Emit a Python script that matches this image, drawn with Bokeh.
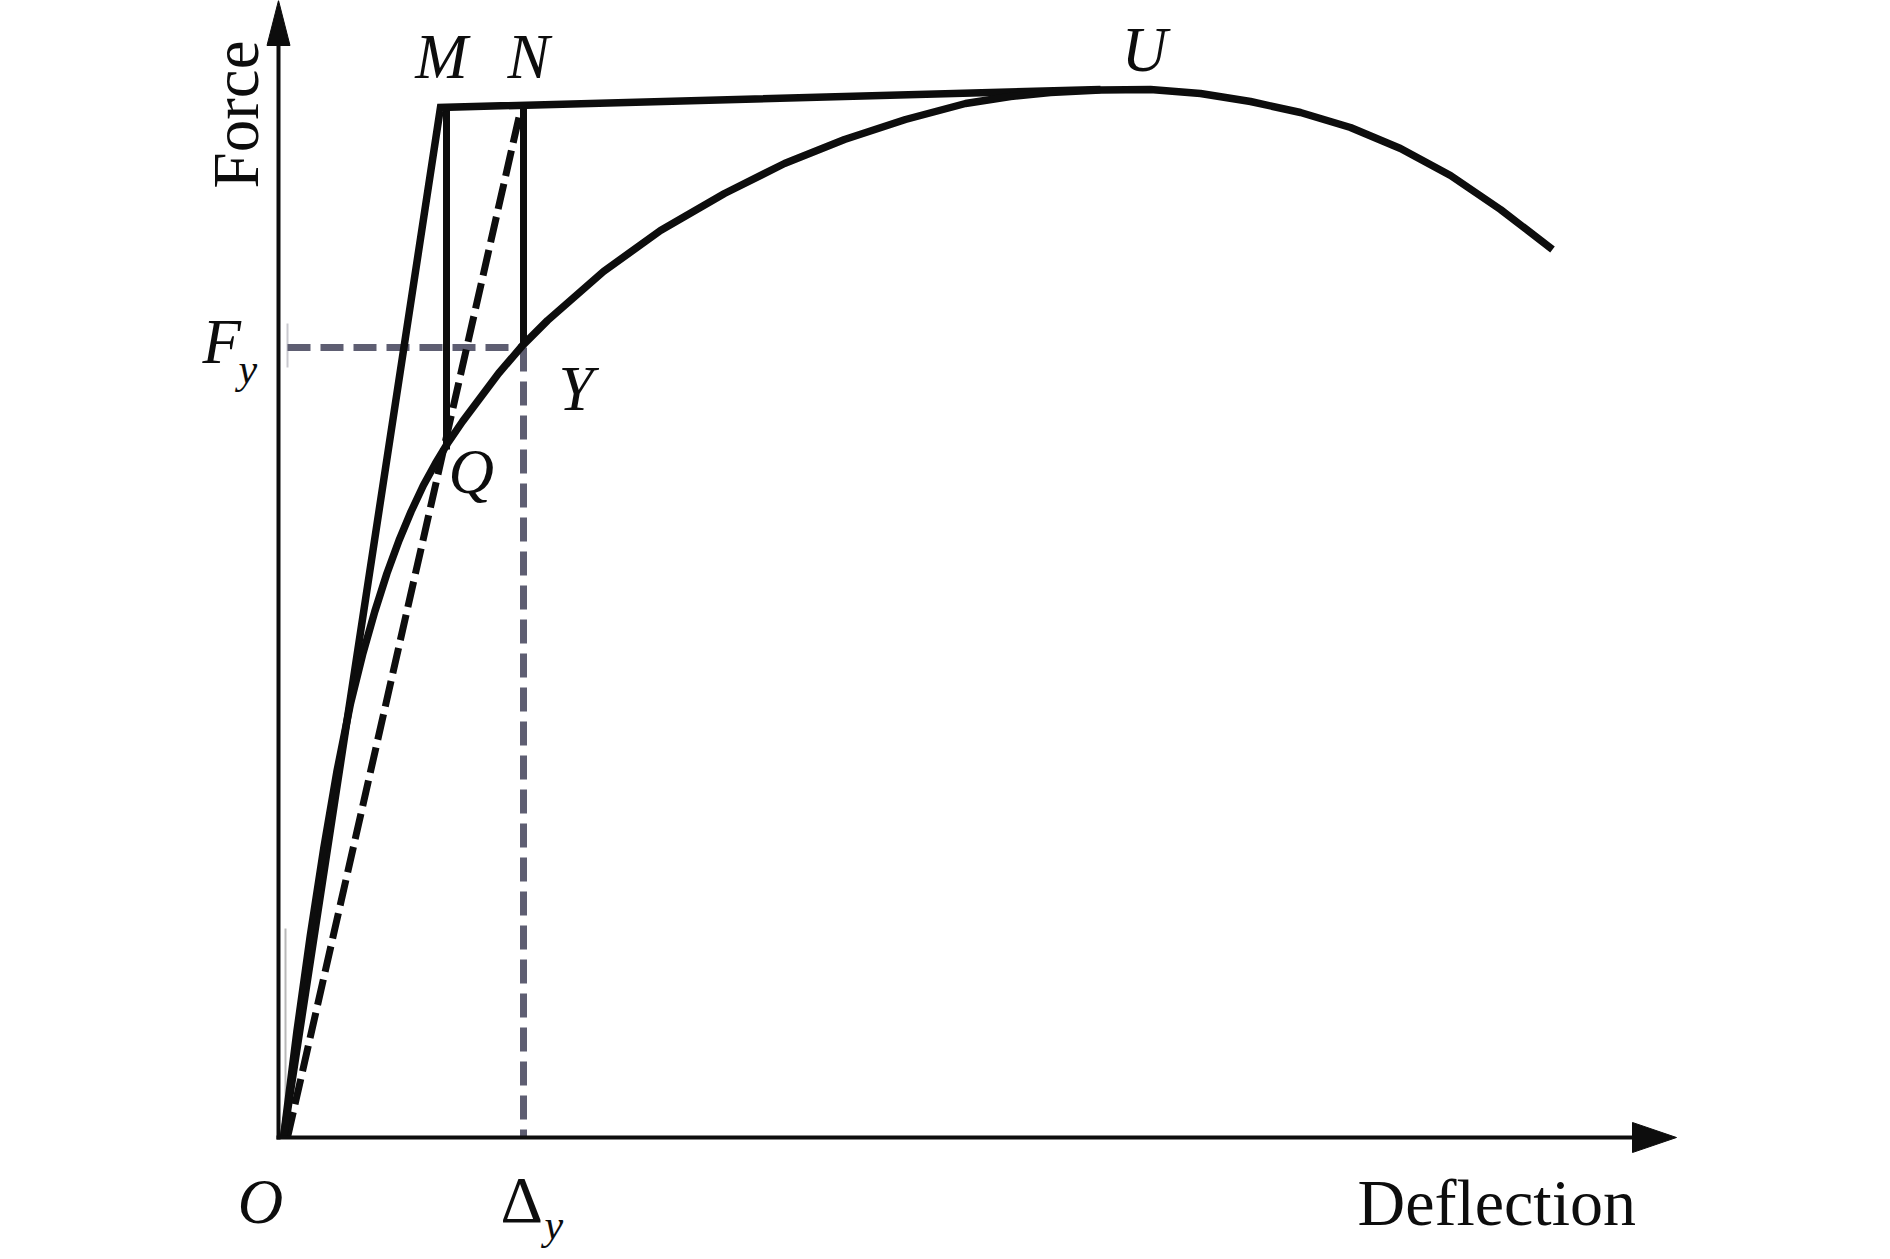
import math
from bokeh.plotting import figure
from bokeh.models import Range1d
from bokeh.embed import file_html
from bokeh.resources import INLINE
from bokeh.core.properties import value

# ---- data (deflection, force) in arbitrary schematic units ----
curve_deflection = [0.05, 0.184, 0.318, 0.452, 0.586, 0.72, 0.841, 0.963, 1.084, 1.205,
                    1.326, 1.448, 1.569, 1.69, 1.84, 1.99, 2.20, 2.44, 2.69, 3.25, 3.82,
                    4.46, 5.06, 5.66, 6.27, 6.87, 7.32, 7.72, 8.22, 8.72, 9.22, 9.72,
                    10.22, 10.72, 11.22, 11.72, 12.22, 12.74]
curve_force = [0.00, 1.06, 2.02, 2.89, 3.67, 4.34, 4.83, 5.26, 5.64, 5.97,
               6.26, 6.52, 6.74, 6.94, 7.16, 7.36, 7.64, 7.92, 8.17, 8.66, 9.07,
               9.44, 9.74, 9.98, 10.18, 10.34, 10.41, 10.45, 10.475, 10.48, 10.44, 10.36,
               10.25, 10.10, 9.89, 9.62, 9.28, 8.88]

# bilinear idealisation O -> M -> end of plateau
elastic_deflection = [0.05, 1.62, 8.22]
elastic_force = [0.00, 10.30, 10.48]

# secant through Q up to N
secant_deflection = [0.09, 2.42]
secant_force = [0.00, 10.27]

M_deflection = 1.68
M_force_top, M_force_bottom = 10.30, 6.88
N_deflection = 2.45
N_force_top, N_force_bottom = 10.32, 7.92

Fy = 7.90          # yield force
Dy = 2.45          # yield deflection
Fy_line_start = 0.09

x_axis_end = 13.98
y_axis_end = 11.37

# ---- figure ----
W, H = 1882, 1251
p = figure(width=W, height=H, output_backend="svg", toolbar_location=None,
           x_range=Range1d(-2.78, 16.04), y_range=Range1d(-1.14, 11.37),
           x_axis_type=None, y_axis_type=None, min_border=0,
           outline_line_color=None, background_fill_color="white",
           border_fill_color="white")
p.grid.visible = False

serif = value("Liberation Serif")
BLACK = "#0d0d0d"
GRAY = "#5e5e72"

# faint construction lines
p.line([Fy_line_start, Fy_line_start], [Fy - 0.20, Fy + 0.24], line_color="#c9c9cf", line_width=2)
p.line([0.07, 0.07], [0.0, 2.09], line_color="#b9b9b9", line_width=2)

# gray dashed Fy / Dy guides
p.line([Fy_line_start, Dy], [Fy, Fy], line_color=GRAY, line_width=7, line_dash="23 10")
p.line([Dy, Dy], [Fy, 0.0], line_color=GRAY, line_width=7, line_dash="24 10")

# secant (dashed black)
p.line(secant_deflection, secant_force, line_color=BLACK, line_width=7, line_dash="26 8")

# verticals at M and N
p.line([M_deflection, M_deflection], [M_force_top, M_force_bottom], line_color=BLACK, line_width=7)
p.line([N_deflection, N_deflection], [N_force_top, N_force_bottom], line_color=BLACK, line_width=7)

# bilinear line
p.line(elastic_deflection, elastic_force, line_color=BLACK, line_width=7.5, line_join="miter")

# load-deflection curve
p.line(curve_deflection, curve_force, line_color=BLACK, line_width=7.5, line_join="round")

# axes with arrow heads
hx_len, hx_half = 0.44, 0.15
hy_len, hy_half = 0.45, 0.115
p.line([-0.02, x_axis_end - hx_len + 0.02], [0, 0], line_color=BLACK, line_width=4)
p.line([0, 0], [-0.02, y_axis_end - hy_len + 0.02], line_color=BLACK, line_width=4)
p.patch([x_axis_end - hx_len, x_axis_end - hx_len, x_axis_end], [-hx_half, hx_half, 0],
        fill_color=BLACK, line_color=BLACK, line_width=1)
p.patch([-hy_half, hy_half, 0], [y_axis_end - hy_len, y_axis_end - hy_len, y_axis_end],
        fill_color=BLACK, line_color=BLACK, line_width=1)

# ---- labels ----
SHIFT = 0.0037  # baseline compensation per px of font size (data units)

def label(x, y, t, size, align="left", style="italic", angle=0.0):
    comp = SHIFT * size
    if angle:
        x = x - comp
    else:
        y = y + comp
    p.text([x], [y], text=[t], text_font=serif, text_font_size=f"{size}px",
           text_font_style=style, text_align=align, text_baseline="alphabetic",
           text_color=BLACK, angle=angle)

label(1.63, 10.57, "M", 63, align="center")
label(2.50, 10.57, "N", 63, align="center")
label(8.66, 10.64, "U", 63, align="center")
label(2.80, 7.25, "Y", 63)
label(1.70, 6.42, "Q", 63)
label(-0.18, -0.88, "O", 63, align="center")
label(-0.76, 7.72, "F", 63)
label(-0.40, 7.53, "y", 42)
label(2.22, -0.86, "Δ", 66, style="normal")
label(2.66, -1.03, "y", 42)
label(10.79, -0.89, "Deflection", 66, style="normal")
label(-0.18, 9.49, "Force", 65, style="normal", angle=math.pi / 2)

open("out.html", "w").write(file_html(p, INLINE))
